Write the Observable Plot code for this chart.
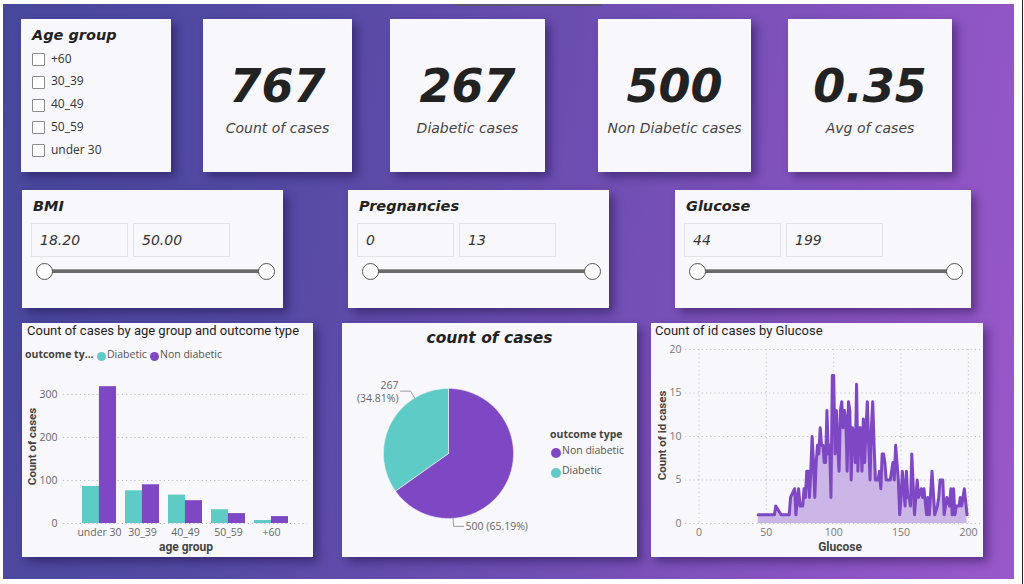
<!DOCTYPE html>
<html><head><meta charset="utf-8">
<script src="https://cdn.jsdelivr.net/npm/d3@7"></script>
<script src="https://cdn.jsdelivr.net/npm/@observablehq/plot@0.6"></script>
<style>
html,body{margin:0;padding:0;background:#fff;}
#root{position:relative;width:1024px;height:584px;overflow:hidden;font-family:"Open Sans",sans-serif;}
.bg{position:absolute;left:3px;top:4px;width:1011px;height:575px;background:linear-gradient(100deg,#47489c 0%,#554aa4 28%,#6e4eb2 55%,#8753c0 80%,#9a58ca 100%);}
.edge{position:absolute;left:1022px;top:0;width:1px;height:584px;background:#222;}
.topline{position:absolute;left:456px;top:4px;width:146px;height:2px;background:#5a5670;}
.card{position:absolute;background:#f8f7fb;box-shadow:5px 5px 9px rgba(25,12,60,.45);}
.t{position:absolute;white-space:nowrap;line-height:1.3;}
.comic{font-family:"DejaVu Sans",sans-serif;font-style:italic;}
.cb{position:absolute;width:11px;height:11px;border:1px solid #8a8a8a;background:#fff;border-radius:1px;}
.box{position:absolute;border:1px solid #e4e3e8;box-sizing:border-box;}
.rail{position:absolute;height:3px;background:#6a6a6a;border-top:1px solid #999;}
.knob{position:absolute;width:17px;height:17px;border-radius:50%;background:#fff;border:1.5px solid #555;box-sizing:border-box;}
.dot{position:absolute;width:9px;height:9px;border-radius:50%;}
</style></head>
<body><div id="root"><div class="bg"></div><div class="edge"></div><div class="topline"></div></div>
<script>
// ---------- data ----------
const slicerItems = ["+60", "30_39", "40_49", "50_59", "under 30"];
const kpiValues = ["767", "267", "500", "0.35"];
const kpiLabels = ["Count of cases", "Diabetic cases", "Non Diabetic cases", "Avg of cases"];
const rangeNames = ["BMI", "Pregnancies", "Glucose"];
const rangeMins = ["18.20", "0", "44"];
const rangeMaxs = ["50.00", "13", "199"];

const ageGroups = ["under 30", "30_39", "40_49", "50_59", "+60"];
const outcomeTypes = ["Diabetic", "Non diabetic"];
const diabeticByAge = [86, 76, 66, 32, 7];
const nonDiabeticByAge = [318, 90, 53, 23, 16];
const barYTicks = [0, 100, 200, 300];

const pieLabels = ["Non diabetic", "Diabetic"];
const pieValues = [500, 267];

const glucoseValues = [44,56,57,61,62,65,67,68,71,72,73,74,75,76,77,78,79,80,81,82,83,84,85,86,87,88,89,90,91,92,93,94,95,96,97,98,99,100,101,102,103,104,105,106,107,108,109,110,111,112,113,114,115,116,117,118,119,120,121,122,123,124,125,126,127,128,129,130,131,132,133,134,135,136,137,138,139,140,141,142,143,144,145,146,147,148,149,150,151,152,153,154,155,156,157,158,160,162,163,165,166,167,169,170,171,173,175,177,178,179,181,182,184,186,187,188,189,190,191,193,194,195,197,199];
const glucoseCounts = [1,1,2,1,1,1,1,3,4,1,3,4,2,2,2,4,3,6,6,3,6,10,7,3,7,9,8,11,9,9,7,7,13,8,9,3,17,17,8,13,9,6,13,14,11,13,12,6,14,13,5,11,10,7,16,6,11,11,6,12,7,11,14,9,5,11,14,9,5,5,5,6,4,8,8,7,5,5,5,5,6,7,5,9,7,5,1,3,6,4,2,6,3,3,2,8,1,5,3,4,3,4,1,3,1,6,1,2,3,5,5,1,3,2,4,1,4,1,2,2,3,2,4,1];
const lineXTicks = [0, 50, 100, 150, 200];
const lineYTicks = [0, 5, 10, 15, 20];

// ---------- styling ----------
const TEAL = "#5ecbc6", PURPLE = "#7e47c3", AREA = "#ccb6e8";
const root = document.getElementById("root");
function el(parent, cls, css, text) {
  const e = document.createElement("div");
  if (cls) e.className = cls;
  Object.assign(e.style, css || {});
  if (text !== undefined) e.textContent = text;
  parent.appendChild(e);
  return e;
}
function card(x, y, w, h) { return el(root, "card", {left: x+"px", top: y+"px", width: w+"px", height: h+"px"}); }

// Age slicer
{
  const c = card(21, 19, 150, 153);
  el(c, "t comic", {left:"11px", top:"7px", fontSize:"14.5px", fontWeight:"bold", color:"#222"}, "Age group");
  slicerItems.forEach((s, i) => {
    const y = 34 + i*22.8;
    el(c, "cb", {left:"11px", top:y+"px"});
    el(c, "t", {left:"30px", top:(y-2.5)+"px", fontSize:"12px", color:"#333", fontFamily:"Open Sans"}, s);
  });
}
// KPI cards
const kpiBoxes = [[203,19,149],[390,19,155],[598,19,153],[788,19,164]];
kpiValues.forEach((v, i) => {
  const [x,y,w] = kpiBoxes[i];
  const c = card(x, y, w, 153);
  el(c, "t comic", {left:"0", width:w+"px", textAlign:"center", top:"39px", fontSize:"46px", fontWeight:"bold", color:"#222", lineHeight:"56px"}, v);
  el(c, "t comic", {left:"0", width:w+"px", textAlign:"center", top:"100px", fontSize:"14px", color:"#444"}, kpiLabels[i]);
});
// Range slicers
const rangeBoxes = [[22,190,261],[348,190,261],[675,190,296]];
rangeNames.forEach((n, i) => {
  const [x,y,w] = rangeBoxes[i];
  const c = card(x, y, w, 118);
  el(c, "t comic", {left:"11px", top:"7px", fontSize:"14.5px", fontWeight:"bold", color:"#222"}, n);
  const b1 = el(c, "box", {left:"9px", top:"33px", width:"97px", height:"34px"});
  const b2 = el(c, "box", {left:"111px", top:"33px", width:"97px", height:"34px"});
  el(b1, "t comic", {left:"8px", top:"7px", fontSize:"14px", color:"#333"}, rangeMins[i]);
  el(b2, "t comic", {left:"8px", top:"7px", fontSize:"14px", color:"#333"}, rangeMaxs[i]);
  el(c, "rail", {left:"22px", top:"79px", width:(w-39)+"px"});
  el(c, "knob", {left:"13.5px", top:"72.5px"});
  el(c, "knob", {left:(w-25.5)+"px", top:"72.5px"});
});

// ---------- bar chart ----------
{
  const c = card(22, 323, 291, 234);
  el(c, "t", {left:"5px", top:"0px", fontSize:"13px", fontFamily:"Roboto", fontWeight:"normal", color:"#1f1e1d"}, "Count of cases by age group and outcome type");
  el(c, "t", {left:"3px", top:"25px", fontSize:"10.5px", fontFamily:"Open Sans", fontWeight:"bold", color:"#444"}, "outcome ty...");
  el(c, "dot", {left:"75px", top:"29px", background:TEAL});
  el(c, "t", {left:"85px", top:"25px", fontSize:"10.5px", color:"#555"}, outcomeTypes[0]);
  el(c, "dot", {left:"128px", top:"29px", background:PURPLE});
  el(c, "t", {left:"138px", top:"25px", fontSize:"10.5px", color:"#555"}, outcomeTypes[1]);
  el(c, "t", {left:"-40px", top:"116px", width:"100px", textAlign:"center", transform:"rotate(-90deg)", fontSize:"11.5px", fontFamily:"Roboto", fontWeight:"bold", color:"#444"}, "Count of cases");
  el(c, "t", {left:"114px", top:"217px", width:"100px", textAlign:"center", fontSize:"12px", fontFamily:"Roboto", fontWeight:"bold", color:"#444"}, "age group");

  const barData = [];
  ageGroups.forEach((g, i) => {
    barData.push({age: g, outcome: outcomeTypes[0], count: diabeticByAge[i]});
    barData.push({age: g, outcome: outcomeTypes[1], count: nonDiabeticByAge[i]});
  });
  const W = 291, ML = 41, MR = 6, pIn = 0.22, pOut = 0.42;
  const step = (W - ML - MR) / (ageGroups.length - pIn + 2*pOut);
  const half = step*(1 - pIn)/2;
  const svg = Plot.plot({
    width: W, height: 192, marginLeft: ML, marginRight: MR, marginTop: 16, marginBottom: 34,
    style: {background: "transparent", fontFamily: "Open Sans", fontSize: "10.5px", color: "#666"},
    x: {domain: ageGroups, paddingInner: pIn, paddingOuter: pOut, tickSize: 0, tickPadding: 5, label: null},
    y: {domain: [0, 330], ticks: barYTicks, tickSize: 0, tickPadding: 6, label: null},
    marks: [
      Plot.ruleY(barYTicks, {stroke: "#bdbbc4", strokeDasharray: "1.2,3"}),
      Plot.barY(barData.filter(d => d.outcome === outcomeTypes[0]), {x: "age", y: "count", fill: TEAL, insetRight: half}),
      Plot.barY(barData.filter(d => d.outcome === outcomeTypes[1]), {x: "age", y: "count", fill: PURPLE, insetLeft: half})
    ]
  });
  Object.assign(svg.style, {position: "absolute", left: "0px", top: "42px"});
  c.appendChild(svg);
}

// ---------- pie chart ----------
{
  const c = card(342, 323, 295, 234);
  el(c, "t comic", {left:"0", width:"295px", textAlign:"center", top:"5px", fontSize:"15.5px", fontWeight:"bold", color:"#222"}, "count of cases");
  el(c, "t", {left:"208px", top:"105px", fontSize:"10.5px", fontWeight:"bold", color:"#444"}, "outcome type");
  el(c, "dot", {left:"209px", top:"125px", background:PURPLE, width:"10px", height:"10px"});
  el(c, "t", {left:"220px", top:"121px", fontSize:"10.5px", color:"#555"}, pieLabels[0]);
  el(c, "dot", {left:"209px", top:"145px", background:TEAL, width:"10px", height:"10px"});
  el(c, "t", {left:"220px", top:"141px", fontSize:"10.5px", color:"#555"}, pieLabels[1]);

  const W = 295, H = 207, CX = 106, CY = 103, R = 65;
  const total = d3.sum(pieValues);
  const arcs = d3.pie().sort(null)(pieValues);
  const slices = [], leaders = [], labelsL = [], labelsR = [];
  arcs.forEach((a, i) => {
    const name = pieLabels[i];
    slices.push({name, x: 0, y: 0});
    const n = Math.ceil((a.endAngle - a.startAngle) / 0.01);
    for (let k = 0; k <= n; k++) {
      const t = a.startAngle + (a.endAngle - a.startAngle) * k / n;
      slices.push({name, x: R*Math.sin(t), y: R*Math.cos(t)});
    }
    slices.push({name, x: 0, y: 0});
    const t = a.startAngle + 0.75*(a.endAngle - a.startAngle);
    const s = Math.sin(t) < 0 ? -1 : 1;
    const p0 = {x: R*Math.sin(t), y: R*Math.cos(t)};
    const p1 = {x: (R+8)*Math.sin(t), y: (R+8)*Math.cos(t)};
    const p2 = {x: p1.x + s*10, y: p1.y};
    leaders.push({...p0, name}, {...p1, name}, {...p2, name});
    const pct = (100*pieValues[i]/total).toFixed(2) + "%";
    const lab = {x: p2.x + s*2, y: p2.y, text: s < 0 ? `${pieValues[i]}\n(${pct})` : `${pieValues[i]} (${pct})`};
    (s < 0 ? labelsL : labelsR).push(lab);
  });
  const svg = Plot.plot({
    width: W, height: H, margin: 0,
    style: {background: "transparent", fontFamily: "Open Sans", fontSize: "10.5px"},
    x: {domain: [-CX, W - CX], axis: null},
    y: {domain: [-(H - CY), CY], axis: null},
    marks: [
      Plot.line(slices.filter(d => d.name === pieLabels[0]), {x: "x", y: "y", fill: PURPLE, stroke: "#f3eefa", strokeWidth: 0.6}),
      Plot.line(slices.filter(d => d.name === pieLabels[1]), {x: "x", y: "y", fill: TEAL, stroke: "#f3eefa", strokeWidth: 0.6}),
      Plot.line(leaders, {x: "x", y: "y", z: "name", stroke: "#9a9a9a", strokeWidth: 1}),
      Plot.text(labelsL, {x: "x", y: "y", text: "text", textAnchor: "end", lineAnchor: "middle", lineHeight: 1.3, fill: "#666"}),
      Plot.text(labelsR, {x: "x", y: "y", text: "text", textAnchor: "start", lineAnchor: "middle", fill: "#666"})
    ]
  });
  Object.assign(svg.style, {position: "absolute", left: "0px", top: "27px"});
  c.appendChild(svg);
}

// ---------- line chart ----------
{
  const c = card(651, 323, 332, 234);
  el(c, "t", {left:"4px", top:"0px", fontSize:"13px", fontFamily:"Roboto", fontWeight:"normal", color:"#1f1e1d"}, "Count of id cases by Glucose");
  el(c, "t", {left:"-39px", top:"105px", width:"100px", textAlign:"center", transform:"rotate(-90deg)", fontSize:"11.5px", fontFamily:"Roboto", fontWeight:"bold", color:"#444"}, "Count of id cases");
  el(c, "t", {left:"139px", top:"217px", width:"100px", textAlign:"center", fontSize:"12px", fontFamily:"Roboto", fontWeight:"bold", color:"#444"}, "Glucose");
  const gl = glucoseValues.map((g, i) => ({g, c: glucoseCounts[i]}));
  const svg = Plot.plot({
    width: 332, height: 217, marginLeft: 34, marginRight: 3, marginTop: 9, marginBottom: 34,
    style: {background: "transparent", fontFamily: "Open Sans", fontSize: "10.5px", color: "#777"},
    x: {domain: [-10, 209], ticks: lineXTicks, tickSize: 0, tickPadding: 5, label: null},
    y: {domain: [0, 20], ticks: lineYTicks, tickSize: 0, tickPadding: 4, label: null},
    marks: [
      Plot.ruleY(lineYTicks, {stroke: "#c4c2cc", strokeDasharray: "1.2,3"}),
      Plot.ruleX(lineXTicks, {stroke: "#c4c2cc", strokeDasharray: "1.2,3"}),
      Plot.areaY(gl, {x: "g", y: "c", fill: AREA}),
      Plot.lineY(gl, {x: "g", y: "c", stroke: PURPLE, strokeWidth: 3, strokeLinejoin: "round"})
    ]
  });
  Object.assign(svg.style, {position: "absolute", left: "0px", top: "17px"});
  c.appendChild(svg);
}
</script>
</body></html>
